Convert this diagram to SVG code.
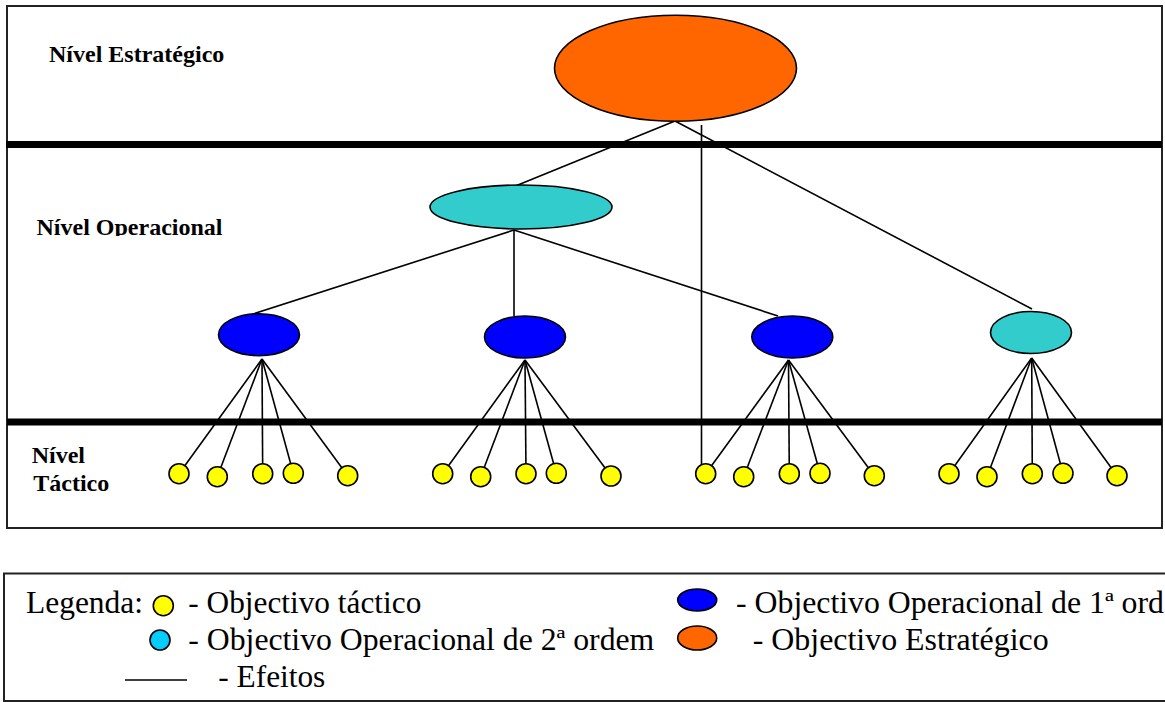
<svg xmlns="http://www.w3.org/2000/svg" width="1165" height="702" viewBox="0 0 1165 702">
<defs>
<style>
.frame{fill:none;stroke:#222;stroke-width:2}
.thick{stroke:#000;stroke-width:7}
.conn line{stroke:#000;stroke-width:1.6}
.tac{fill:#FFFF00;stroke:#000;stroke-width:1.6}
.op1{fill:#0000FF;stroke:#000;stroke-width:1.6}
.op2{fill:#33CCCC;stroke:#000;stroke-width:1.6}
.est{fill:#FF6600;stroke:#000;stroke-width:1.6}
.lvl{font-family:"Liberation Serif","Times New Roman",serif;font-weight:bold;font-size:24px;fill:#000}
.leg{font-family:"Liberation Serif","Times New Roman",serif;font-size:31px;fill:#000}
</style>
<clipPath id="clipOp"><rect x="0" y="200" width="300" height="36"/></clipPath>
</defs>
<rect width="1165" height="702" fill="#fff"/>

<!-- main frame and level separators -->
<rect class="frame" x="7" y="6" width="1155" height="522"/>
<line class="thick" x1="6" y1="144.5" x2="1162" y2="144.5"/>
<line class="thick" x1="7" y1="422" x2="1162" y2="422"/>

<!-- level labels -->
<text class="lvl" x="49" y="61.5">Nível Estratégico</text>
<text class="lvl" x="36.5" y="235" clip-path="url(#clipOp)">Nível Operacional</text>
<text class="lvl" x="31.7" y="463">Nível</text>
<text class="lvl" x="33.3" y="491">Táctico</text>

<!-- connectors -->
<g id="connectors" class="conn">
<line x1="675" y1="121" x2="513" y2="187"/>
<line x1="675" y1="121" x2="1032" y2="309"/>
<line x1="701.5" y1="125" x2="701.5" y2="466"/>
<line x1="514" y1="230" x2="250" y2="315"/>
<line x1="514" y1="230" x2="514" y2="316"/>
<line x1="514" y1="230" x2="778" y2="316"/>
<!-- group A -->
<line x1="262" y1="359" x2="179" y2="473.7"/>
<line x1="262" y1="359" x2="217.3" y2="476.7"/>
<line x1="262" y1="359" x2="262.7" y2="473.7"/>
<line x1="262" y1="359" x2="293.3" y2="473.3"/>
<line x1="262" y1="359" x2="347.7" y2="475.7"/>
<!-- group B -->
<line x1="525" y1="360" x2="442.7" y2="473.7"/>
<line x1="525" y1="360" x2="480.7" y2="476.7"/>
<line x1="525" y1="360" x2="526" y2="473.7"/>
<line x1="525" y1="360" x2="556.3" y2="473.3"/>
<line x1="525" y1="360" x2="611" y2="476"/>
<!-- group C -->
<line x1="788.5" y1="360" x2="705.7" y2="473.7"/>
<line x1="788.5" y1="360" x2="743.7" y2="476.7"/>
<line x1="788.5" y1="360" x2="789.3" y2="473.7"/>
<line x1="788.5" y1="360" x2="820" y2="473.3"/>
<line x1="788.5" y1="360" x2="874.3" y2="475.7"/>
<!-- group D -->
<line x1="1031.7" y1="358" x2="949" y2="473.7"/>
<line x1="1031.7" y1="358" x2="987" y2="476.7"/>
<line x1="1031.7" y1="358" x2="1032.3" y2="473.7"/>
<line x1="1031.7" y1="358" x2="1063" y2="473.3"/>
<line x1="1031.7" y1="358" x2="1117" y2="475.7"/>
</g>

<!-- nodes -->
<g id="estrategico"><ellipse class="est" cx="675.5" cy="68.3" rx="121" ry="53"/></g>
<g id="operacional"><ellipse class="op2" cx="521" cy="207" rx="91" ry="22"/></g>
<g id="op1-a"><ellipse class="op1" cx="259" cy="334.7" rx="40.5" ry="21"/></g>
<g id="op1-b"><ellipse class="op1" cx="525" cy="337" rx="40.5" ry="21"/></g>
<g id="op1-c"><ellipse class="op1" cx="792.3" cy="337" rx="40.5" ry="21"/></g>
<g id="op2-d"><ellipse class="op2" cx="1031" cy="332.5" rx="40.5" ry="21"/></g>

<g id="tac-a1"><circle class="tac" cx="179" cy="473.7" r="10"/></g>
<g id="tac-a2"><circle class="tac" cx="217.3" cy="476.7" r="10"/></g>
<g id="tac-a3"><circle class="tac" cx="262.7" cy="473.7" r="10"/></g>
<g id="tac-a4"><circle class="tac" cx="293.3" cy="473.3" r="10"/></g>
<g id="tac-a5"><circle class="tac" cx="347.7" cy="475.7" r="10"/></g>
<g id="tac-b1"><circle class="tac" cx="442.7" cy="473.7" r="10"/></g>
<g id="tac-b2"><circle class="tac" cx="480.7" cy="476.7" r="10"/></g>
<g id="tac-b3"><circle class="tac" cx="526" cy="473.7" r="10"/></g>
<g id="tac-b4"><circle class="tac" cx="556.3" cy="473.3" r="10"/></g>
<g id="tac-b5"><circle class="tac" cx="611" cy="476" r="10"/></g>
<g id="tac-c1"><circle class="tac" cx="705.7" cy="473.7" r="10"/></g>
<g id="tac-c2"><circle class="tac" cx="743.7" cy="476.7" r="10"/></g>
<g id="tac-c3"><circle class="tac" cx="789.3" cy="473.7" r="10"/></g>
<g id="tac-c4"><circle class="tac" cx="820" cy="473.3" r="10"/></g>
<g id="tac-c5"><circle class="tac" cx="874.3" cy="475.7" r="10"/></g>
<g id="tac-d1"><circle class="tac" cx="949" cy="473.7" r="10"/></g>
<g id="tac-d2"><circle class="tac" cx="987" cy="476.7" r="10"/></g>
<g id="tac-d3"><circle class="tac" cx="1032.3" cy="473.7" r="10"/></g>
<g id="tac-d4"><circle class="tac" cx="1063" cy="473.3" r="10"/></g>
<g id="tac-d5"><circle class="tac" cx="1117" cy="475.7" r="10"/></g>

<!-- legend -->
<g id="legend">
<rect class="frame" x="4" y="573.5" width="1175" height="127.5"/>
<text class="leg" x="26" y="613.3" textLength="117" lengthAdjust="spacingAndGlyphs">Legenda:</text>
<circle cx="163.3" cy="605.7" r="10" fill="#FFFF00" stroke="#000" stroke-width="1.6"/>
<text class="leg" x="188.3" y="613.3" textLength="233" lengthAdjust="spacingAndGlyphs">- Objectivo táctico</text>
<circle cx="160" cy="640" r="10" fill="#00CCFF" stroke="#000" stroke-width="1.6"/>
<text class="leg" x="188.3" y="650" textLength="466" lengthAdjust="spacingAndGlyphs">- Objectivo Operacional de 2ª ordem</text>
<line x1="125" y1="680" x2="187" y2="680" stroke="#000" stroke-width="1.6"/>
<text class="leg" x="218.3" y="686.7" textLength="107" lengthAdjust="spacingAndGlyphs">- Efeitos</text>
<ellipse cx="697.2" cy="600" rx="19.5" ry="11" fill="#0000FF" stroke="#000" stroke-width="1.6"/>
<text class="leg" x="736" y="613.3" textLength="428" lengthAdjust="spacingAndGlyphs">- Objectivo Operacional de 1ª ord</text>
<ellipse cx="697.2" cy="638" rx="19.5" ry="12" fill="#FF6600" stroke="#000" stroke-width="1.6"/>
<text class="leg" x="752.7" y="650" textLength="296" lengthAdjust="spacingAndGlyphs">- Objectivo Estratégico</text>
</g>
</svg>
